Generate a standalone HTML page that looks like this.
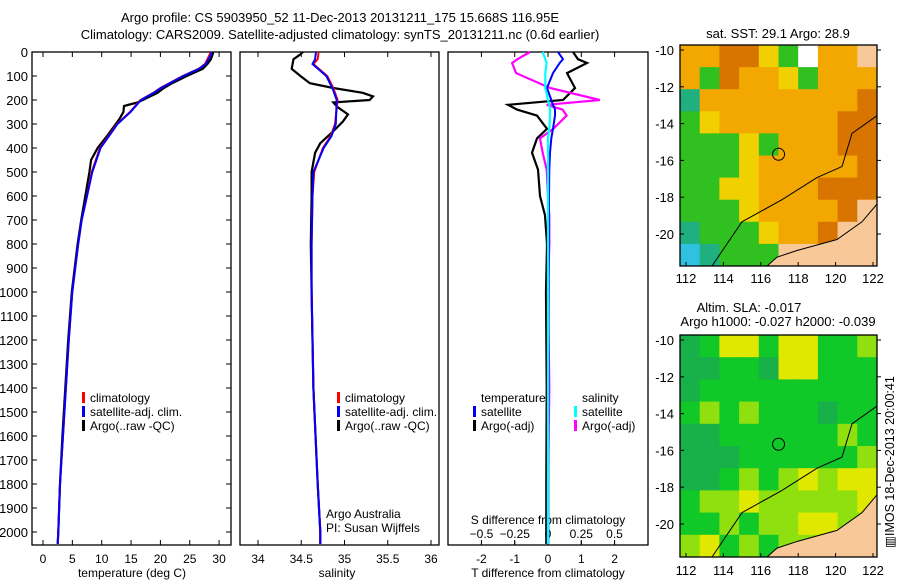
<!DOCTYPE html>
<html><head><meta charset="utf-8"><style>
html,body{margin:0;padding:0;background:#fff;}
svg{display:block;font-family:"Liberation Sans",sans-serif;}
text{fill:#000;}
</style></head><body>
<svg id="c" width="900" height="580" xmlns="http://www.w3.org/2000/svg">
<text x="340" y="22" font-size="13" text-anchor="middle">Argo profile: CS 5903950_52 11-Dec-2013 20131211_175 15.668S 116.95E</text>
<text x="340" y="39" font-size="13" text-anchor="middle">Climatology: CARS2009. Satellite-adjusted climatology: synTS_20131211.nc (0.6d earlier)</text>
<text x="778" y="38" font-size="13" text-anchor="middle">sat. SST: 29.1 Argo: 28.9</text>
<text x="749" y="312" font-size="13" text-anchor="middle">Altim. SLA: -0.017</text>
<text x="778" y="326" font-size="13" text-anchor="middle">Argo h1000: -0.027 h2000: -0.039</text>
<text x="0" y="0" font-size="12.5" text-anchor="middle" transform="translate(894,462) rotate(-90)">▥IMOS 18-Dec-2013 20:00:41</text>
<g id="g"></g>
</svg>
<script>
// ---- profile data ----
const depthT = [0,10,30,50,70,100,130,150,170,200,250,300,400,500,600,700,800,1000,1200,1400,1600,1800,2000,2050];
const tempClim = [28.5,28.4,28.0,27.6,26.5,23.8,21.5,20.0,18.8,16.6,14.8,12.6,9.7,8.3,7.5,6.6,6.0,5.0,4.4,3.9,3.4,2.9,2.6,2.5];
const tempSat  = [28.7,28.6,28.2,27.7,26.6,23.9,21.6,20.1,18.9,16.7,14.9,12.7,9.8,8.4,7.5,6.6,6.0,5.0,4.4,3.9,3.4,2.9,2.6,2.5];
const depthA = [0,10,30,50,70,100,130,150,170,200,210,225,250,280,300,350,400,450,500,600,700,800,1000,1200,1400,1600,1800,2000,2050];
const tempArgo = [29.0,28.9,28.6,28.0,27.2,24.5,22.0,20.6,19.5,17.0,16.1,13.8,13.7,13.0,12.4,10.9,9.3,8.2,7.9,7.2,6.5,5.9,4.9,4.3,3.8,3.3,2.9,2.6,2.5];
const depthS = [0,30,50,100,150,200,300,350,400,500,600,800,1000,1400,1800,2000,2050];
const salClim = [34.70,34.69,34.64,34.80,34.87,34.92,34.89,34.84,34.75,34.65,34.63,34.62,34.62,34.64,34.69,34.72,34.72];
const salSat  = [34.67,34.66,34.63,34.79,34.86,34.91,34.90,34.85,34.76,34.64,34.63,34.62,34.62,34.64,34.69,34.72,34.72];
const depthSA = [0,10,30,70,100,130,150,170,185,200,210,230,260,290,330,380,420,500,600,800,1000,1400,1800,2000,2050];
const salArgo = [34.52,34.49,34.41,34.39,34.49,34.60,34.87,35.21,35.33,35.29,34.87,34.92,35.04,34.98,34.87,34.72,34.66,34.62,34.62,34.61,34.62,34.64,34.69,34.72,34.72];
const depthD = [0,30,46,88,150,200,220,240,265,320,360,420,490,600,680,800,1000,1400,1800,2050];
const dTArgo = [0.75,0.9,1.17,0.57,0.81,0.45,-1.2,-0.93,-0.33,-0.03,-0.33,-0.48,-0.3,-0.24,-0.09,-0.03,-0.06,-0.04,-0.05,-0.05];
const dTSat  = [0.3,0.45,0.35,0.15,-0.03,0.1,0.15,0.21,0.21,0.15,0.1,0.06,0.04,0.03,0.03,0.02,0.02,0.01,0.01,0.01];
const dSArgo = [-0.135,-0.23,-0.27,-0.24,0.015,0.39,-0.01,0.11,0.14,0.04,-0.06,-0.04,-0.01,0.0,0.01,0.01,0.0,0.01,0.0,0.0];
const dSSat  = [-0.04,-0.02,-0.01,-0.02,-0.02,0.0,0.01,0.015,0.015,0.01,0.0,0.0,0.0,0.0,0.0,0.0,0.0,0.0,0.0,0.0];
const depthTicks = [0,100,200,300,400,500,600,700,800,900,1000,1100,1200,1300,1400,1500,1600,1700,1800,1900,2000];
const tTicks = [0,5,10,15,20,25,30];
const sTicks = [34,34.5,35,35.5,36];
const dTTicks = [-2,-1,0,1,2];
const dSTicks = [-0.5,-0.25,0,0.25,0.5];
// ---- map grids ----
const sstGrid = ["OODDYGWOOL","OGDOOYGOOO","TOOOOOOOOD","GYOOOOOODD","GGGYGOOODD","GGGYOOOOOD","GGYYOOODDD","GGGYOOOODL","TGGGYOODLL","CTGGGLLLLL"];
const slaGrid = ["MGYYGYYGGL","MMGGMYYGGG","MGGGGGGGGG","GLGLGGGMGG","MMGGGGGGLG","MMMGGGGGGL","MMGLGLYLYY","GLLYLLLLLY","GGLGLLYYLL","LYGLGLLLLL"];
const lonTicks = [112,114,116,118,120,122];
const latTicks = [-10,-12,-14,-16,-18,-20];
const argoLon = 116.95, argoLat = -15.668;

const NS="http://www.w3.org/2000/svg", G=document.getElementById('g');
function mk(t,a,p){const e=document.createElementNS(NS,t);for(const k in a)e.setAttribute(k,a[k]);(p||G).appendChild(e);return e;}
const yD = d => 52 + d*0.24;
const Y0=52, Y1=545;
function panel(x0,x1,name){
  const r=mk('rect',{x:x0,y:Y0,width:x1-x0,height:Y1-Y0,fill:'none',stroke:'#000','stroke-width':1.3});
  
  
}
function line(xs,ds,fx,col,w,name){
  const pts=xs.map((v,i)=>fx(v).toFixed(1)+','+yD(ds[i]).toFixed(1)).join(' ');
  const p=mk('polyline',{points:pts,fill:'none',stroke:col,'stroke-width':w});
  
  
}
function txt(x,y,s,sz,anchor,name){const t=mk('text',{x:x,y:y,'font-size':sz,'text-anchor':anchor||'start'});t.textContent=s;
  
  
  return t;}
// panel 1
const xT=v=>43+5.87*v;
panel(32,231,'temperature-panel');
depthTicks.forEach(d=>{mk('line',{x1:32,x2:37,y1:yD(d),y2:yD(d),stroke:'#000'});mk('line',{x1:226,x2:231,y1:yD(d),y2:yD(d),stroke:'#000'});txt(28,yD(d)+5,String(d),13,'end','depth-tick-label');});
tTicks.forEach(v=>{mk('line',{x1:xT(v),x2:xT(v),y1:Y1,y2:Y1-5,stroke:'#000'});mk('line',{x1:xT(v),x2:xT(v),y1:Y0,y2:Y0+5,stroke:'#000'});txt(xT(v),563,String(v),12,'middle','temp-tick-label');});
txt(132,577,'temperature (deg C)',12,'middle','temp-axis-title');
line(tempArgo,depthA,xT,'#000',2.2,'argo-temp-line');
line(tempClim,depthT,xT,'#f00',2,'clim-temp-line');
line(tempSat,depthT,xT,'#00f',2,'sat-temp-line');
// panel 2
const xS=v=>258+86.5*(v-34);
panel(240,439,'salinity-panel');
sTicks.forEach(v=>{mk('line',{x1:xS(v),x2:xS(v),y1:Y1,y2:Y1-5,stroke:'#000'});mk('line',{x1:xS(v),x2:xS(v),y1:Y0,y2:Y0+5,stroke:'#000'});txt(xS(v),563,String(v),12,'middle','sal-tick-label');});
txt(337,577,'salinity',12,'middle','sal-axis-title');
line(salArgo,depthSA,xS,'#000',2.2,'argo-sal-line');
line(salClim,depthS,xS,'#f00',2,'clim-sal-line');
line(salSat,depthS,xS,'#00f',2,'sat-sal-line');
txt(326,518,'Argo Australia',12,'start','credit-1');
txt(326,532,'PI: Susan Wijffels',12,'start','credit-2');
// panel 3
const xdT=v=>548+33.3*v, xdS=v=>548+133*v;
panel(448,648,'difference-panel');
dTTicks.forEach(v=>{mk('line',{x1:xdT(v),x2:xdT(v),y1:Y1,y2:Y1-5,stroke:'#000'});mk('line',{x1:xdT(v),x2:xdT(v),y1:Y0,y2:Y0+5,stroke:'#000'});txt(xdT(v),563,String(v),12,'middle','dT-tick-label');});
dSTicks.forEach(v=>{mk('line',{x1:xdS(v),x2:xdS(v),y1:Y1,y2:Y1-4,stroke:'#000'});txt(xdS(v),538,String(v).replace('-','−'),12,'middle','dS-tick-label');});
txt(548,524,'S difference from climatology',12,'middle','dS-axis-title');
txt(548,577,'T difference from climatology',12,'middle','dT-axis-title');
line(dTArgo,depthD,xdT,'#000',2.2,'argo-dT-line');
line(dSArgo,depthD,xdS,'#f0f',2.2,'argo-dS-line');
line(dTSat,depthD,xdT,'#00f',2,'sat-dT-line');
line(dSSat,depthD,xdS,'#0ff',2.2,'sat-dS-line');
// legends
function leg(x,y,col,s){mk('rect',{x:x,y:y-10,width:3,height:11,fill:col});txt(x+8,y,s,12,'start','legend-entry');}
[[82,'climatology','#f00'],[82,'satellite-adj. clim.','#00f'],[82,'Argo(..raw -QC)','#000']].forEach((l,i)=>leg(l[0],402+i*14,l[2],l[1]));
[[337,'climatology','#f00'],[337,'satellite-adj. clim.','#00f'],[337,'Argo(..raw -QC)','#000']].forEach((l,i)=>leg(l[0],402+i*14,l[2],l[1]));
txt(481,402,'temperature',12,'start','legend-header-t');txt(582,402,'salinity',12,'start','legend-header-s');
leg(473,416,'#00f','satellite');leg(473,430,'#000','Argo(-adj)');
leg(574,416,'#0ff','satellite');leg(574,430,'#f0f','Argo(-adj)');
// maps
const col={O:'#f2a800',D:'#d87400',Y:'#f0d000',G:'#30c020',T:'#20b080',C:'#30c0e0',W:'#ffffff',L:'#f8c898',M:'#20b050',};
const colSla={M:'#18b048',G:'#10c828',Y:'#e0e800',L:'#90e010'};
function map(y0,y1,grid,cmap,name,latRef,lblY){
  const x0=680,x1=877;
  const lx=v=>686+18.7*(v-112), ly=v=>latRef+18.4*(-10-v);
  const cw=(x1-x0)/10,ch=(y1-y0)/10;
  grid.forEach((row,r)=>row.split('').forEach((c,k)=>{
    const e=mk('rect',{x:x0+k*cw,y:y0+r*ch,width:cw+0.5,height:ch+0.5,fill:(cmap[c]||col[c]||'#f8c898')});
    
    
  }));
  const land=mk('polygon',{points:[[x1,y0+(y1-y0)*0.72],[x1-15,y0+(y1-y0)*0.8],[x1-40,y0+(y1-y0)*0.88],[x1-80,y0+(y1-y0)*0.93],[x1-100,y0+(y1-y0)*0.96],[x1-110,y1],[x1,y1]].map(p=>p.join(',')).join(' '),fill:'#f8c898',stroke:'#000','stroke-width':1});
  
  
  const iso=mk('polyline',{points:[[x1,y0+(y1-y0)*0.32],[x1-25,y0+(y1-y0)*0.4],[x1-35,y0+(y1-y0)*0.55],[x1-60,y0+(y1-y0)*0.6],[x1-95,y0+(y1-y0)*0.7],[x1-135,y0+(y1-y0)*0.8],[x1-150,y0+(y1-y0)*0.9],[x1-165,y1]].map(p=>p.join(',')).join(' '),fill:'none',stroke:'#000','stroke-width':1});
  
  
  const f=mk('rect',{x:x0,y:y0,width:x1-x0,height:y1-y0,fill:'none',stroke:'#000','stroke-width':1.3});
  
  
  const ci=mk('circle',{cx:lx(argoLon),cy:ly(argoLat),r:6,fill:'none',stroke:'#000','stroke-width':1});
  
  
  lonTicks.forEach(v=>{mk('line',{x1:lx(v),x2:lx(v),y1:y1,y2:y1-4,stroke:'#000'});txt(lx(v),lblY,String(v),13,'middle','lon-tick-label');});
  latTicks.forEach(v=>{mk('line',{x1:x0,x2:x0+4,y1:ly(v),y2:ly(v),stroke:'#000'});mk('line',{x1:x1,x2:x1+4,y1:ly(v),y2:ly(v),stroke:'#000'});txt(x0-6,ly(v)+5,String(v),13,'end','lat-tick-label');});
}
map(45,266,sstGrid,{},'sst-map',50,283);
map(335,557,slaGrid,colSla,'sla-map',340,575);
</script>
</body></html>
